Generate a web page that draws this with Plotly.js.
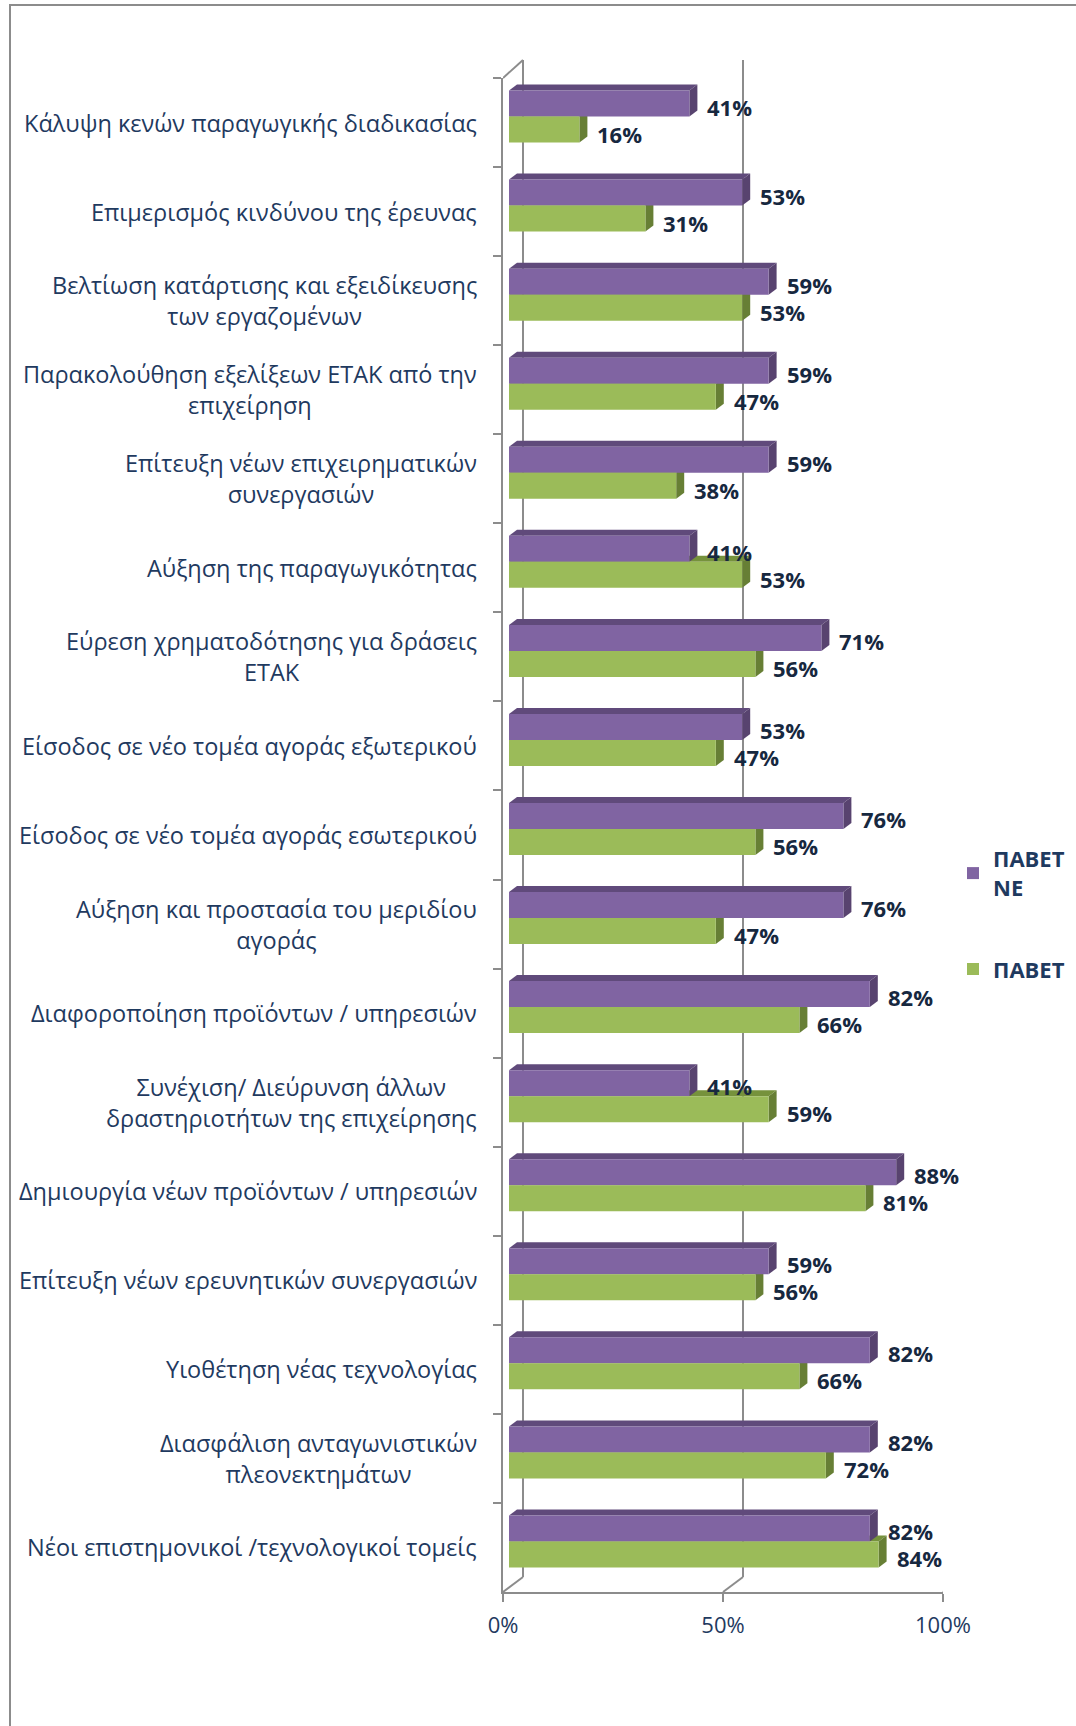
<!DOCTYPE html>
<html>
<head>
<meta charset="utf-8">
<script src="https://cdn.plot.ly/plotly-3.0.1.min.js"></script>
<style>
  html, body { margin: 0; padding: 0; background: #fff; }
  #wrap { position: relative; width: 1076px; height: 1726px; overflow: hidden; }
  #chart { position: absolute; left: 0; top: 0; width: 1076px; height: 1726px; }
  #frame { position: absolute; left: 9px; top: 4px; width: 3000px; height: 3000px;
           border-left: 2px solid #8c8c8c; border-top: 2px solid #8c8c8c; pointer-events: none; }
</style>
</head>
<body>
<div id="wrap"><div id="chart"></div><div id="frame"></div></div>
<script>
// ---------------- DATA ----------------
const categories = [
  "Κάλυψη κενών παραγωγικής διαδικασίας",
  "Επιμερισμός κινδύνου της έρευνας",
  "Βελτίωση κατάρτισης και εξειδίκευσης<br>των εργαζομένων",
  "Παρακολούθηση εξελίξεων ΕΤΑΚ από την<br>επιχείρηση",
  "Επίτευξη νέων επιχειρηματικών<br>συνεργασιών",
  "Αύξηση της παραγωγικότητας",
  "Εύρεση χρηματοδότησης για δράσεις<br>ΕΤΑΚ",
  "Είσοδος σε νέο τομέα αγοράς εξωτερικού",
  "Είσοδος σε νέο τομέα αγοράς εσωτερικού",
  "Αύξηση και προστασία του μεριδίου<br>αγοράς",
  "Διαφοροποίηση προϊόντων / υπηρεσιών",
  "Συνέχιση/ Διεύρυνση άλλων<br>δραστηριοτήτων της επιχείρησης",
  "Δημιουργία νέων προϊόντων / υπηρεσιών",
  "Επίτευξη νέων ερευνητικών συνεργασιών",
  "Υιοθέτηση νέας τεχνολογίας",
  "Διασφάλιση ανταγωνιστικών<br>πλεονεκτημάτων",
  "Νέοι επιστημονικοί /τεχνολογικοί τομείς"
];
const seriesNames = ["ΠΑΒΕΤ<br>ΝΕ", "ΠΑΒΕΤ"];
const pavetNE = [41, 53, 59, 59, 59, 41, 71, 53, 76, 76, 82, 41, 88, 59, 82, 82, 82];
const pavet   = [16, 31, 53, 47, 38, 53, 56, 47, 56, 47, 66, 59, 81, 56, 66, 72, 84];
const xTickVals = [0, 0.5, 1];
const xTickText = ["0%", "50%", "100%"];

// ---------------- GEOMETRY / STYLE ----------------
const W = 1076, H = 1726;
const plotL = 503, plotR = 949, plotT = 78, plotB = 1592;
const plotW = plotR - plotL, plotH = plotB - plotT;
const frontW = 440;          // width of the front plane (0..100%)
const barShift = 6;          // bars sit slightly behind the front plane
const depth = 20;            // depth of the 3D box in px
const backTop = 60, backBottom = 1577;
const catPx = plotH / categories.length;
const barW = 26 / catPx;
const liftPx = 6 / catPx;
const faceDx = 8 / frontW, faceDy = 6 / catPx;
const paperY = py => (plotB - py) / plotH;

const purple = "#8064A2", purpleTop = "#604A7B", purpleSide = "#58436F";
const green = "#9BBB59", greenTop = "#76923C", greenSide = "#677F35";
const axisGray = "#8c8c8c";
const textNavy = "#1f3a5f", labelNavy = "#17283f";
const FONT = "'Open Sans', 'Noto Sans', sans-serif";

const series = [
  {name: seriesNames[0], vals: pavetNE, color: purple, top: purpleTop, side: purpleSide, offset: -barW - liftPx, labelShift: 16},
  {name: seriesNames[1], vals: pavet,   color: green,  top: greenTop,  side: greenSide,  offset: -liftPx,        labelShift: -11}
];

const traces = series.map((s, k) => ({
  type: "bar", orientation: "h",
  name: s.name,
  legendgroup: "g" + k,
  y: categories,
  x: s.vals.map(v => v / 100),
  width: barW, offset: s.offset,
  marker: {color: s.color, line: {width: 0}},
  xaxis: "x", yaxis: "y",
  hoverinfo: "skip"
}));
// helper trace so that the tick axis (front plane) is drawn
traces.push({type: "scatter", x: [], y: [], xaxis: "x2", yaxis: "y", showlegend: false, hoverinfo: "skip"});

const shapes = [];
// back wall gridlines and floor diagonals
xTickVals.forEach(t => {
  shapes.push({type: "line", xref: "x2", xsizemode: "pixel", xanchor: t, x0: depth, x1: depth,
               yref: "paper", y0: paperY(backBottom), y1: paperY(backTop),
               line: {color: axisGray, width: 2}, layer: "below"});
  shapes.push({type: "line", xref: "x2", xsizemode: "pixel", xanchor: t, x0: 0, x1: depth,
               yref: "paper", y0: 0, y1: paperY(backBottom),
               line: {color: axisGray, width: 2}, layer: "below"});
});
// left wall top diagonal
shapes.push({type: "line", xref: "x2", xsizemode: "pixel", xanchor: 0, x0: 0, x1: depth,
             yref: "paper", y0: 1, y1: paperY(backTop),
             line: {color: axisGray, width: 2}, layer: "below"});

// 3D faces of bars (computed from data)
series.slice().reverse().forEach(s => {
  s.vals.forEach((val, i) => {
    const v = val / 100;
    const yt = i + s.offset, yb = yt + barW;
    shapes.push({type: "path", xref: "x", yref: "y", layer: "below",
      path: `M0,${yt} L${v},${yt} L${v + faceDx},${yt - faceDy} L${faceDx},${yt - faceDy} Z`,
      fillcolor: s.top, line: {width: 0}});
    shapes.push({type: "path", xref: "x", yref: "y", layer: "below",
      path: `M${v},${yt} L${v + faceDx},${yt - faceDy} L${v + faceDx},${yb - faceDy} L${v},${yb} Z`,
      fillcolor: s.side, line: {width: 0}});
  });
});

const annotations = [];
categories.forEach((c, i) => {
  annotations.push({xref: "paper", x: 0, xshift: -24, xanchor: "right", align: "center",
    yref: "y", y: i, yanchor: "middle", text: c, showarrow: false,
    font: {family: FONT, size: 23.5, color: textNavy}});
});
series.forEach(s => {
  s.vals.forEach((val, i) => {
    annotations.push({xref: "x", x: val / 100, xshift: 17, xanchor: "left",
      yref: "y", y: i, yshift: s.labelShift, yanchor: "middle",
      text: val + "%", showarrow: false, borderpad: 0,
      font: {family: FONT, size: 22, color: labelNavy, weight: "bold"}});
  });
});

const layout = {
  width: W, height: H,
  margin: {l: plotL, r: W - plotR, t: plotT, b: H - plotB, pad: 0},
  paper_bgcolor: "#ffffff", plot_bgcolor: "rgba(0,0,0,0)",
  barmode: "overlay",
  showlegend: true,
  legend: {xref: "container", yref: "container", x: 953 / W, y: 1 - 838 / H,
           xanchor: "left", yanchor: "top", traceorder: "grouped", tracegroupgap: 50,
           bgcolor: "rgba(0,0,0,0)",
           font: {family: FONT, size: 22, color: textNavy, weight: "bold"}},
  xaxis: {domain: [barShift / plotW, 1], range: [0, 1], anchor: "y",
          showticklabels: false, showgrid: false, zeroline: false, showline: false, ticks: "",
          fixedrange: true},
  xaxis2: {domain: [0, frontW / plotW], range: [0, 1], anchor: "y",
           tickmode: "array", tickvals: xTickVals, ticktext: xTickText,
           ticks: "outside", ticklen: 8, tickwidth: 2, tickcolor: axisGray,
           ticklabelstandoff: 5,
           showline: true, linecolor: axisGray, linewidth: 2,
           showgrid: false, zeroline: false,
           tickfont: {family: FONT, size: 22, color: textNavy}},
  yaxis: {type: "category", categoryorder: "array", categoryarray: categories,
          range: [categories.length - 0.5, -0.5], anchor: "x2",
          showticklabels: false, ticks: "outside", ticklen: 8, tickwidth: 2, tickcolor: axisGray,
          tickson: "boundaries",
          showline: true, linecolor: axisGray, linewidth: 2, showgrid: false, zeroline: false},
  shapes: shapes,
  annotations: annotations
};

Plotly.newPlot("chart", traces, layout, {displayModeBar: false, staticPlot: true});
</script>
</body>
</html>
